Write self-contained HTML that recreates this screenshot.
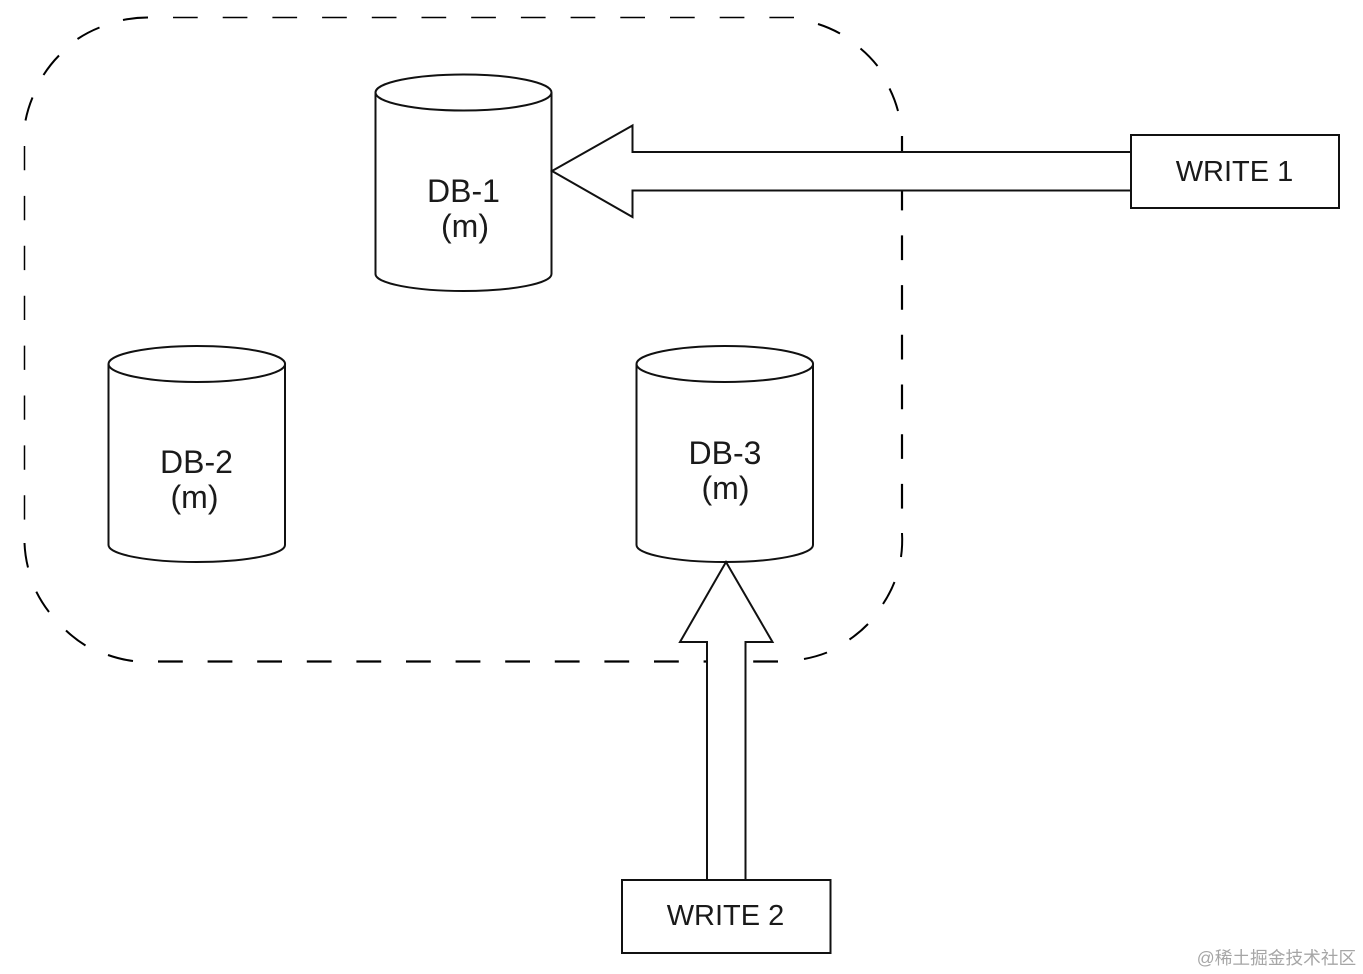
<!DOCTYPE html>
<html>
<head>
<meta charset="utf-8">
<style>
html,body{margin:0;padding:0;background:#fff;width:1363px;height:974px;overflow:hidden}
svg{display:block}
text{font-family:"Liberation Sans","Noto Sans CJK SC",sans-serif;fill:#1a1a1a}
</style>
</head>
<body>
<svg width="1363" height="974" viewBox="0 0 1363 974" xmlns="http://www.w3.org/2000/svg">
<rect width="1363" height="974" fill="#fff"/>
<!-- dashed boundary -->
<g fill="none" stroke="#000">
<path d="M173 17.500H794" stroke-width="1.500" stroke-dasharray="24.700 25"/>
<path d="M24.500 146V520" stroke-width="1.500" stroke-dasharray="24.300 25.600"/>
<path d="M902 136V509" stroke-width="2.200" stroke-dasharray="24.700 25"/>
<path d="M158 661.500H779" stroke-width="2.200" stroke-dasharray="24.800 24.800"/>
<g stroke-width="2">
<path d="M148 17.500A120 120 0 0 0 123 20"/>
<path d="M99.500 27.500A120 120 0 0 0 77.500 39"/>
<path d="M59 55.500A120 120 0 0 0 43.500 75"/>
<path d="M32.500 97.500A120 120 0 0 0 25.500 120.500"/>
<path d="M818 24A120 120 0 0 1 840 33.500"/>
<path d="M860.500 48.500A120 120 0 0 1 877.500 66"/>
<path d="M889.500 88.500A120 120 0 0 1 898 111"/>
<path d="M902 533A120 120 0 0 1 901 557"/>
<path d="M894.500 582A120 120 0 0 1 883 604"/>
<path d="M868 624A120 120 0 0 1 849.500 639.500"/>
<path d="M827 652.500A120 120 0 0 1 804 659"/>
<path d="M24.500 543A120 120 0 0 0 28 567.500"/>
<path d="M36.300 591.700A120 120 0 0 0 49 612"/>
<path d="M66 630.500A120 120 0 0 0 85.500 645.500"/>
<path d="M108 655A120 120 0 0 0 133 661"/>
</g>
</g>
<!-- cylinders -->
<g fill="#fff" stroke="#111" stroke-width="2">
<path d="M375.500 92.500V274C375.500 283.500 415 291 463.500 291S551.500 283.500 551.500 274V92.500"/>
<ellipse cx="463.500" cy="92.500" rx="88" ry="18"/>
<path d="M108.500 364V545C108.500 554.500 148 562 196.500 562S285 554.500 285 545V364"/>
<ellipse cx="196.800" cy="364" rx="88.300" ry="18"/>
<path d="M636.500 364V545C636.500 554.500 676 562 724.500 562S813 554.500 813 545V364"/>
<ellipse cx="724.800" cy="364" rx="88.300" ry="18"/>
</g>
<!-- arrows -->
<g fill="#fff" stroke="#111" stroke-width="2" stroke-linejoin="miter">
<path d="M1131 152H632.500V125.500L552 171L632.500 217V190.500H1131Z"/>
<path d="M707 880V642H680L726 562L772.500 642H745.500V880Z"/>
<rect x="1131" y="135" width="208" height="73"/>
<rect x="622" y="880" width="208.500" height="73"/>
</g>
<!-- labels -->
<g font-size="32" text-anchor="middle">
<text x="463.500" y="202">DB-1</text>
<text x="465" y="237">(m)</text>
<text x="196.500" y="473">DB-2</text>
<text x="194.500" y="508">(m)</text>
<text x="725" y="464">DB-3</text>
<text x="725.500" y="499">(m)</text>
</g>
<g font-size="29" text-anchor="middle">
<text x="1234.500" y="181">WRITE 1</text>
<text x="725.500" y="925">WRITE 2</text>
</g>
<text x="1276.500" y="964" font-size="17.700" text-anchor="middle" style="fill:#a6a6a6">@稀土掘金技术社区</text>
</svg>
</body>
</html>
